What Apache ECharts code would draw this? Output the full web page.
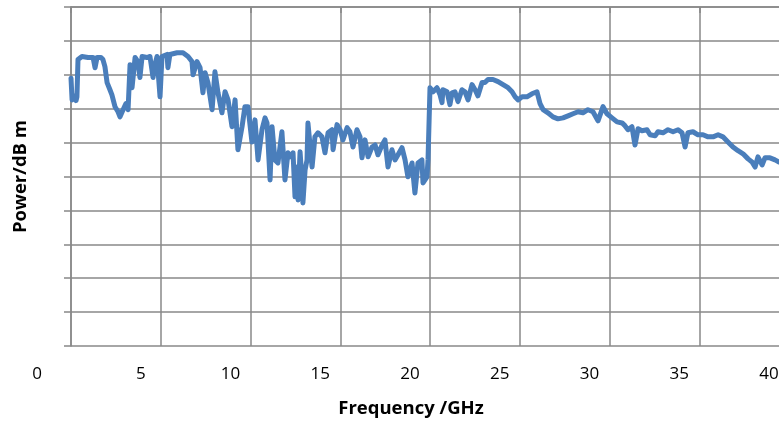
<!DOCTYPE html>
<html><head><meta charset="utf-8">
<script src="https://cdn.jsdelivr.net/npm/echarts@6/dist/echarts.min.js"></script>
<style>html,body{margin:0;padding:0;background:#fff}#c{width:779px;height:421px}</style>
</head><body><div id="c"></div>
<script>
const frequencyGHz = [0,0.06,0.17,0.28,0.33,0.39,0.61,0.95,1.23,1.34,1.45,1.67,1.78,1.89,2.01,2.17,2.28,2.45,2.62,2.73,2.90,3.06,3.18,3.29,3.40,3.57,3.73,3.84,3.96,4.23,4.40,4.57,4.68,4.79,4.96,5.07,5.35,5.40,5.51,5.91,6.24,6.52,6.74,6.80,7.02,7.19,7.30,7.35,7.47,7.58,7.63,7.86,8.02,8.19,8.41,8.58,8.75,8.97,9.14,9.30,9.53,9.69,9.86,10.08,10.25,10.42,10.64,10.81,10.92,11.09,11.20,11.36,11.53,11.75,11.92,12.09,12.20,12.37,12.48,12.59,12.65,12.76,12.87,12.92,13.04,13.15,13.20,13.43,13.59,13.76,13.98,14.15,14.32,14.54,14.60,14.82,14.99,15.15,15.38,15.54,15.71,15.93,16.10,16.21,16.38,16.55,16.77,16.94,17.10,17.33,17.49,17.66,17.88,18.05,18.22,18.44,18.61,18.77,19.00,19.16,19.33,19.55,19.61,19.83,19.89,20.00,20.17,20.39,20.56,20.67,20.72,20.95,21.11,21.23,21.39,21.56,21.78,21.95,22.12,22.34,22.51,22.67,22.90,23.06,23.23,23.51,23.79,24.07,24.35,24.57,24.74,24.90,25.13,25.40,25.68,25.96,26.13,26.30,26.57,26.85,27.13,27.41,27.69,27.97,28.25,28.52,28.80,29.08,29.36,29.64,29.86,30.14,30.42,30.70,30.86,31.03,31.25,31.42,31.59,31.81,32.09,32.26,32.54,32.70,32.98,33.26,33.54,33.82,34.04,34.21,34.37,34.65,34.93,35.21,35.49,35.77,36.05,36.32,36.60,36.88,37.16,37.44,37.72,37.94,38.11,38.27,38.50,38.66,38.94,39.22,39.44,39.78,40.00];
const powerDbm = [-21.0,-27.4,-26.2,-27.6,-26.5,-15.5,-14.6,-14.9,-14.9,-17.9,-14.9,-14.9,-15.5,-17.6,-22.3,-24.4,-25.9,-29.4,-30.9,-32.4,-30.3,-28.5,-30.3,-17.0,-23.8,-14.9,-16.1,-20.8,-14.6,-14.9,-14.6,-20.8,-17.0,-14.6,-26.5,-14.6,-14.0,-17.9,-14.0,-13.5,-13.5,-14.6,-16.1,-20.0,-16.1,-17.9,-22.9,-25.3,-19.4,-19.1,-22.3,-30.3,-19.1,-25.3,-31.2,-25.0,-27.4,-35.3,-27.4,-42.1,-35.3,-29.4,-29.4,-39.8,-33.3,-45.1,-36.2,-32.7,-34.2,-51.0,-35.3,-45.1,-46.0,-36.8,-51.0,-43.0,-44.2,-43.0,-56.0,-47.2,-56.9,-42.7,-51.0,-57.8,-48.1,-45.1,-34.2,-47.2,-38.3,-37.1,-38.3,-43.0,-37.1,-36.2,-42.1,-34.7,-36.2,-39.2,-35.6,-36.8,-41.3,-36.2,-38.3,-44.5,-39.2,-44.2,-41.3,-40.7,-43.6,-40.7,-39.2,-47.2,-42.1,-45.1,-43.6,-41.5,-45.1,-50.1,-46.0,-54.9,-46.0,-45.1,-51.9,-50.1,-45.1,-23.8,-25.0,-23.8,-25.9,-28.2,-24.4,-25.0,-28.8,-25.3,-25.0,-27.9,-24.4,-25.0,-27.4,-22.9,-24.4,-26.2,-22.3,-22.3,-21.4,-21.4,-22.0,-22.9,-23.8,-25.0,-26.5,-27.4,-26.5,-26.5,-25.6,-25.0,-28.5,-30.3,-31.2,-32.4,-33.0,-32.7,-32.1,-31.5,-30.9,-31.2,-30.3,-30.9,-33.6,-29.4,-31.5,-32.7,-33.9,-34.2,-35.0,-36.2,-35.3,-40.7,-35.9,-36.5,-36.2,-37.7,-38.0,-36.8,-37.1,-36.2,-36.8,-36.2,-37.1,-41.3,-37.1,-36.8,-37.7,-37.7,-38.3,-38.3,-37.7,-38.3,-39.8,-41.3,-42.4,-43.3,-44.8,-45.7,-47.2,-44.2,-46.6,-44.5,-44.5,-45.1,-45.7,-46.0,-46.3];
const xTickLabels = ['0','5','10','15','20','25','30','35','40'];
const xAxisTitle = 'Frequency /GHz';
const yAxisTitle = 'Power/dB m';

const gridColor = '#888888';
const chart = echarts.init(document.getElementById('c'), null, {renderer: 'canvas'});
chart.setOption({
  animation: false,
  backgroundColor: '#ffffff',
  grid: {left: 71, right: -10, top: 7, bottom: 75, containLabel: false, outerBoundsMode: 'none'},
  xAxis: {
    type: 'value', min: 0, max: 40, interval: 5,
    name: xAxisTitle, nameLocation: 'middle', nameGap: 53,
    nameTextStyle: {fontFamily: 'Open Sans', fontWeight: 'bold', fontSize: 18.5, color: '#000', padding: [0, 38, 0, 0]},
    axisLine: {show: true, lineStyle: {color: gridColor, width: 1.5}},
    axisTick: {show: true, length: 6, lineStyle: {color: gridColor, width: 1.5}},
    splitLine: {show: true, lineStyle: {color: gridColor, width: 1.5}},
    axisLabel: {
      margin: 20, fontFamily: 'Open Sans', fontSize: 17, color: '#000',
      padding: [0, 40, 0, 0],
      showMaxLabel: true, showMinLabel: true, hideOverlap: false,
      formatter: function (v) { const i = Math.round(v / 5); const t = xTickLabels[i]; return i === 0 ? '{z|' + t + '}' : t; },
      rich: {z: {fontFamily: 'Open Sans', fontSize: 17, color: '#000', padding: [0, 28, 0, 0]}}
    }
  },
  yAxis: {
    type: 'value', min: -100, max: 0, interval: 10,
    name: yAxisTitle, nameLocation: 'middle', nameGap: 41, nameRotate: 90,
    nameTextStyle: {fontFamily: 'Open Sans', fontWeight: 'bold', fontSize: 18.5, color: '#000'},
    axisLine: {show: true, lineStyle: {color: gridColor, width: 1.5}},
    axisTick: {show: true, length: 7, lineStyle: {color: gridColor, width: 1.5}},
    splitLine: {show: true, lineStyle: {color: gridColor, width: 1.5}},
    axisLabel: {show: false}
  },
  series: [{
    type: 'line', showSymbol: false, symbol: 'none',
    data: frequencyGHz.map((f, i) => [f, powerDbm[i]]),
    lineStyle: {color: '#4a7ebb', width: 5, join: 'round', cap: 'round'},
    itemStyle: {color: '#4a7ebb'}
  }]
});
</script></body></html>
